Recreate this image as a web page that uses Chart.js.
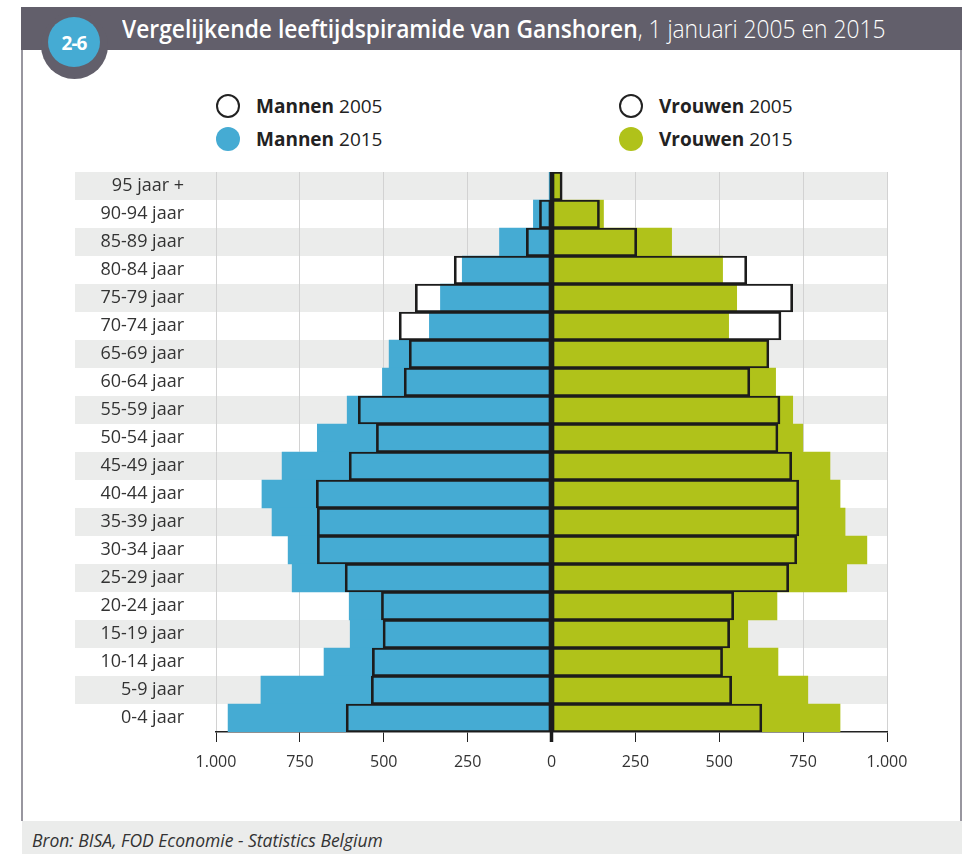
<!DOCTYPE html>
<html>
<head>
<meta charset="utf-8">
<script src="https://cdn.jsdelivr.net/npm/chart.js@4.4.1/dist/chart.umd.min.js"></script>
<style>
  body { margin: 0; background: #fff; }
  #page { position: relative; width: 962px; height: 854px; overflow: hidden; font-family: 'Open Sans', sans-serif; }
  .frame { position: absolute; background: #98969f; }
  #titlebar { position: absolute; left: 21px; top: 7px; width: 941px; height: 43px; background: #625f6b; }
  #title { position: absolute; left: 122px; top: 11px; color: #fff; font-size: 25px; line-height: 34px; white-space: nowrap; transform-origin: left top; }
  #title b { font-weight: 600; }
  #title span { font-weight: 300; }
  #badgeOuter { position: absolute; left: 41px; top: 12px; width: 67px; height: 67px; border-radius: 50%; background: #625f6b; }
  #badgeInner { position: absolute; left: 48px; top: 17px; width: 52px; height: 50px; border-radius: 50%; background: #45abd3; color: #fff; font-weight: bold; font-size: 19px; line-height: 52px; text-align: center; letter-spacing: -1px; }
  .leg { position: absolute; font-size: 19px; color: #222; white-space: nowrap; line-height: 24px; }
  .leg i { display: inline-block; width: 24px; height: 24px; border-radius: 50%; vertical-align: middle; margin-right: 16px; box-sizing: border-box; }
  .leg span { vertical-align: middle; }
  .leg b { font-weight: 700; }
  #footer { position: absolute; left: 22px; top: 821px; width: 940px; height: 33px; background: #ebeceb; }
  #footer span { position: absolute; left: 10px; top: 7px; font-style: italic; font-size: 17.5px; color: #333; }
  #chart { position: absolute; left: 0; top: 160px; }
</style>
</head>
<body>
<div id="page">
  <div class="frame" style="left:21px;top:7px;width:2px;height:814px;"></div>
  <div class="frame" style="left:960px;top:7px;width:2px;height:814px;"></div>
  <div id="titlebar"></div>
  <div id="badgeOuter"></div>
  <div id="badgeInner">2-6</div>
  <div id="title"><b>Vergelijkende leeftijdspiramide van Ganshoren</b><span>, 1 januari 2005 en 2015</span></div>

  <div class="leg" style="left:216px;top:92px;"><i style="border:2px solid #222;background:#fff;"></i><span><b>Mannen</b> 2005</span></div>
  <div class="leg" style="left:216px;top:125px;"><i style="background:#45abd3;"></i><span><b>Mannen</b> 2015</span></div>
  <div class="leg" style="left:619px;top:92px;"><i style="border:2px solid #222;background:#fff;"></i><span><b>Vrouwen</b> 2005</span></div>
  <div class="leg" style="left:619px;top:125px;"><i style="background:#b0c21a;"></i><span><b>Vrouwen</b> 2015</span></div>

  <canvas id="chart" width="962" height="640"></canvas>

  <div id="footer"><span>Bron: BISA, FOD Economie - Statistics Belgium</span></div>
</div>

<script>
// titel smaller maken zodat hij past zoals in het origineel
const title = document.getElementById('title');
title.style.transform = 'scaleX(' + (763 / title.offsetWidth) + ')';

// leeftijdsklassen, van oud naar jong (bovenaan eerst)
const ageGroups = ['95 jaar +', '90-94 jaar', '85-89 jaar', '80-84 jaar', '75-79 jaar', '70-74 jaar',
    '65-69 jaar', '60-64 jaar', '55-59 jaar', '50-54 jaar', '45-49 jaar', '40-44 jaar', '35-39 jaar',
    '30-34 jaar', '25-29 jaar', '20-24 jaar', '15-19 jaar', '10-14 jaar', '5-9 jaar', '0-4 jaar'];

const men2005 = [4, 36, 75, 290, 406, 454, 424, 439, 576, 522, 603, 701, 698, 698, 615, 507, 502, 534, 537, 612];
const men2015 = [7, 54, 155, 266, 331, 364, 484, 504, 609, 698, 803, 863, 833, 785, 773, 603, 600, 678, 866, 964];
const women2005 = [32, 143, 254, 582, 719, 684, 648, 591, 681, 675, 716, 737, 737, 731, 707, 543, 531, 510, 537, 627];
const women2015 = [30, 155, 358, 510, 552, 528, 642, 668, 719, 749, 830, 860, 875, 940, 880, 672, 585, 675, 764, 860];

const xTicks = [-1000, -750, -500, -250, 0, 250, 500, 750, 1000];

const blue = '#45abd3';
const green = '#b0c21a';
const outline = '#1c1c1c';

const neg = arr => arr.map(v => -v);
const fmt = v => String(Math.abs(v)).replace(/\B(?=(\d{3})+(?!\d))/g, '.');

// grijze banden om de rij + dikke nullijn
const bandsPlugin = {
    id: 'bands',
    beforeDraw(chart) {
        const { ctx, chartArea, scales } = chart;
        const y = scales.y;
        ctx.save();
        ctx.fillStyle = '#ebeceb';
        ageGroups.forEach((g, i) => {
            if (i % 2 !== 0) return;
            const c = y.getPixelForValue(i);
            const h = y.getPixelForValue(1) - y.getPixelForValue(0);
            ctx.fillRect(75, c - h / 2, chartArea.right - 75, h);
        });
        ctx.restore();
    },
    afterDatasetsDraw(chart) {
        const { ctx, chartArea, scales } = chart;
        const x0 = scales.x.getPixelForValue(0);
        ctx.save();
        ctx.strokeStyle = outline;
        ctx.lineWidth = 3.5;
        ctx.beginPath();
        ctx.moveTo(x0, chartArea.top);
        ctx.lineTo(x0, chartArea.bottom + 10);
        ctx.stroke();
        ctx.restore();
    }
};

const common = { grouped: false, barPercentage: 1, categoryPercentage: 1, borderSkipped: false };
const border = { top: 1.5, bottom: 1.5, left: 2, right: 2 };

const ctx = document.getElementById('chart').getContext('2d');
const chart = new Chart(ctx, {
    type: 'bar',
    data: {
        labels: ageGroups,
        datasets: [
            { ...common, label: 'Mannen 2005 bg', data: neg(men2005), backgroundColor: '#fff', borderWidth: 0, order: 3 },
            { ...common, label: 'Vrouwen 2005 bg', data: women2005, backgroundColor: '#fff', borderWidth: 0, order: 3 },
            { ...common, label: 'Mannen 2015', data: neg(men2015), backgroundColor: blue, borderWidth: 0, order: 2 },
            { ...common, label: 'Vrouwen 2015', data: women2015, backgroundColor: green, borderWidth: 0, order: 2 },
            { ...common, label: 'Mannen 2005', data: neg(men2005), backgroundColor: 'rgba(0,0,0,0)', borderColor: outline, borderWidth: border, order: 1 },
            { ...common, label: 'Vrouwen 2005', data: women2005, backgroundColor: 'rgba(0,0,0,0)', borderColor: outline, borderWidth: border, order: 1 }
        ]
    },
    options: {
        indexAxis: 'y',
        responsive: false,
        animation: false,
        layout: { padding: { top: 12, right: 75, bottom: 28, left: 0 } },
        plugins: { legend: { display: false }, tooltip: { enabled: false } },
        scales: {
            x: {
                min: -1000,
                max: 1000,
                afterBuildTicks: scale => { scale.ticks = xTicks.map(v => ({ value: v })); },
                afterFit: scale => { scale.height = 40; },
                grid: { color: '#d2d2d2', lineWidth: 1, tickColor: '#222', tickLength: 10 },
                border: { color: '#222', width: 1.5 },
                ticks: {
                    callback: v => fmt(v),
                    color: '#333',
                    padding: 11,
                    font: { family: "'Open Sans', sans-serif", size: 16 }
                }
            },
            y: {
                afterFit: scale => {
                    scale.width = 216;
                    scale.paddingTop = 0;
                    scale.paddingBottom = 0;
                },
                grid: { display: false, drawTicks: false },
                border: { display: false },
                ticks: {
                    color: '#333',
                    padding: 32,
                    font: { family: "'Open Sans', sans-serif", size: 18 }
                }
            }
        }
    },
    plugins: [bandsPlugin]
});
</script>
</body>
</html>
